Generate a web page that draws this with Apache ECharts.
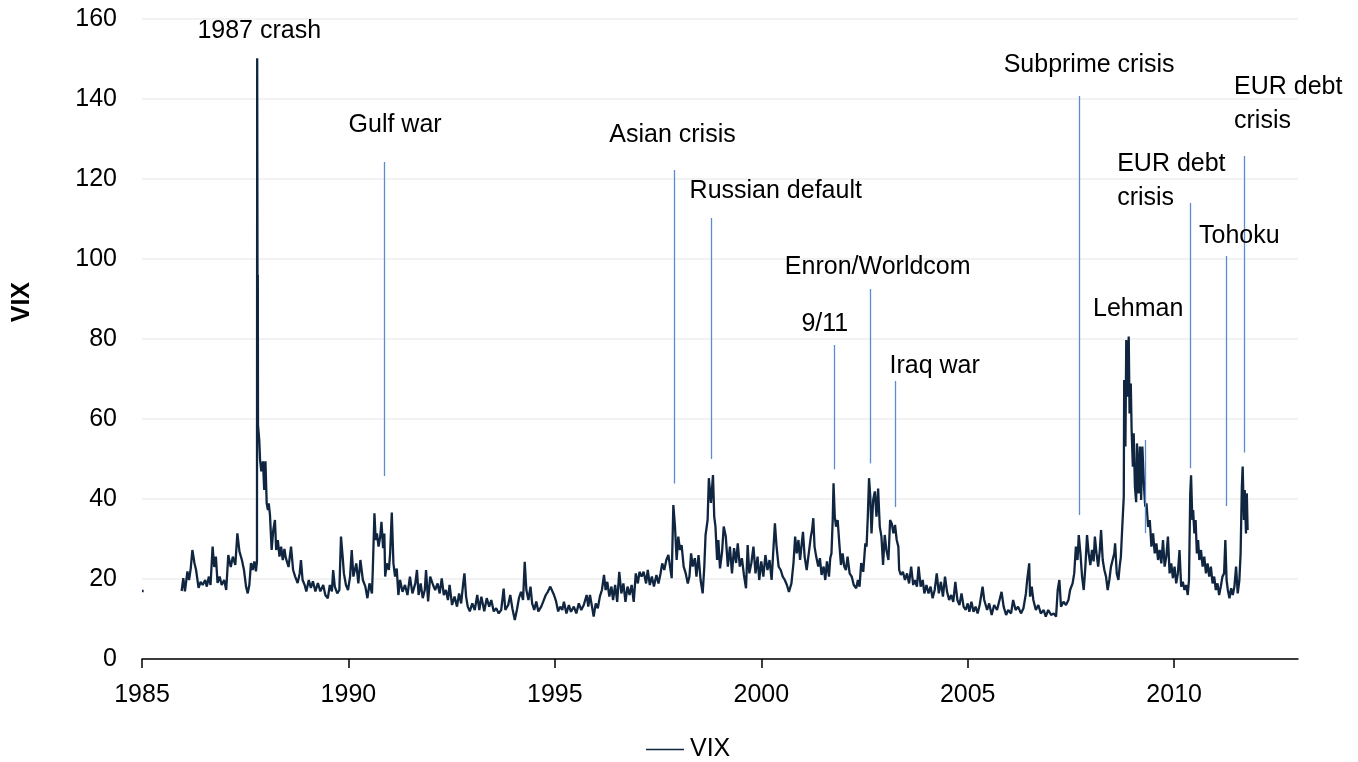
<!DOCTYPE html>
<html>
<head>
<meta charset="utf-8">
<script src="https://cdn.jsdelivr.net/npm/echarts@6/dist/echarts.min.js"></script>
<style>
html,body{margin:0;padding:0;background:#fff;}
#chart{width:1358px;height:762px;}
</style>
</head>
<body>
<div id="chart"></div>
<script>
// ---- data: [year, VIX] ----
const strayPoint = [[1985.00, 17], [1985.04, 17]];

const vix1986to1989 = [
[1985.96,17.0],[1986.00,20.2],[1986.04,16.9],[1986.10,21.9],[1986.14,19.75],[1986.18,22.6],[1986.22,27.25],[1986.27,24],[1986.31,22.25],[1986.37,17.8],[1986.42,19.3],[1986.47,18.5],[1986.53,19.75],[1986.57,18.1],[1986.62,20.6],[1986.66,18.5],[1986.71,28.1],[1986.75,23],[1986.79,25.6],[1986.83,19],[1986.88,20.6],[1986.93,18.5],[1986.99,19.75],[1987.04,17.25],[1987.09,26],[1987.15,23],[1987.20,25.6],[1987.26,23.5],[1987.31,31.4],[1987.36,26.9],[1987.42,24.75],[1987.47,22.25],[1987.52,18.1],[1987.56,16.4],[1987.60,18.5],[1987.64,24],[1987.68,22.25],[1987.72,24.4],[1987.76,21.9],[1987.785,24.5],
[1987.79,150.2],[1987.795,113.5],[1987.80,74],[1987.805,96],[1987.81,58.5],[1987.84,54.75],[1987.86,49.75],[1987.89,46.9],[1987.93,49.4],[1987.96,42.25],[1987.99,49.4],[1988.02,38.9],[1988.05,37.25],[1988.07,38.9],[1988.10,36],[1988.14,27.25],[1988.18,32.25],[1988.22,34.75],[1988.25,27.25],[1988.29,29.75],[1988.33,25.6],[1988.37,28.1],[1988.41,24.75],[1988.45,27.5],[1988.48,25.4],[1988.55,23],[1988.61,28.1],[1988.66,22.25],[1988.71,20.6],[1988.77,19],[1988.82,21.4],[1988.85,24.75],[1988.89,19.75],[1988.94,18.5],[1988.98,16.9],[1989.04,19.75],[1989.09,17.75],[1989.14,19.4],[1989.20,16.9],[1989.26,19],[1989.32,16.9],[1989.39,18.5],[1989.44,16],[1989.50,15.2],[1989.55,18.5],[1989.60,16.9],[1989.63,22.25],[1989.67,18.1],[1989.73,16.4],[1989.78,17.25],[1989.82,30.6],[1989.86,25.6],[1989.89,21.4],[1989.94,18.5],[1989.99,17.25]
];

const vix1990to1994 = [
[1990.04,20.6],[1990.08,27.25],[1990.12,20.6],[1990.19,23.9],[1990.24,18.9],[1990.29,24.75],[1990.35,19.75],[1990.41,18.1],[1990.46,15.2],[1990.51,18.9],[1990.57,16.4],[1990.59,22.25],[1990.63,36.4],[1990.66,29.75],[1990.69,31.4],[1990.73,28.1],[1990.77,30.6],[1990.80,34.3],[1990.84,27.7],[1990.87,31.4],[1990.89,20.6],[1990.93,23.9],[1990.98,22.25],[1991.01,26.4],[1991.05,36.6],[1991.09,23.9],[1991.13,20.6],[1991.17,22.6],[1991.21,16],[1991.25,19.75],[1991.31,16.8],[1991.37,18.5],[1991.43,16],[1991.49,20.6],[1991.55,16.4],[1991.62,18.9],[1991.66,22.25],[1991.70,16],[1991.75,18.9],[1991.80,15.2],[1991.85,17.25],[1991.88,22.25],[1991.93,14.4],[1991.98,20.6],[1992.05,18.5],[1992.10,17.25],[1992.16,18.9],[1992.21,16.4],[1992.26,20.15],[1992.31,16],[1992.36,17.25],[1992.41,14.75],[1992.45,18.5],[1992.51,13.5],[1992.57,15.6],[1992.63,13.1],[1992.68,16.4],[1992.73,13.9],[1992.78,18.9],[1992.81,21.4],[1992.85,15.6],[1992.89,13.1],[1992.94,11.9],[1993.00,13.9],[1993.06,12.25],[1993.12,16],[1993.17,12.25],[1993.22,15.6],[1993.29,11.9],[1993.35,15.2],[1993.41,13.1],[1993.46,14.75],[1993.52,11.9],[1993.58,12.7],[1993.64,11.4],[1993.70,12.25],[1993.76,17.6],[1993.80,12.25],[1993.87,13.5],[1993.92,16],[1993.97,12.7],[1994.03,9.75],[1994.08,12.25],[1994.13,15.2],[1994.18,16.8],[1994.23,14.75],[1994.27,24.3],[1994.31,17.25],[1994.36,14.75],[1994.41,18.1],[1994.45,13.9],[1994.50,12.25],[1994.55,14.4],[1994.60,11.9],[1994.67,13.1],[1994.72,14.4],[1994.78,16],[1994.83,16.8],[1994.89,18.1],[1994.93,18.5],[1994.98,16],[1995.03,14.4],[1995.08,11.9],[1995.13,13.1]
];

const vix1995to1999 = [
[1995.18,12.25],[1995.22,14.3],[1995.28,11.4],[1995.34,13.5],[1995.39,11.8],[1995.46,13.1],[1995.52,11.4],[1995.58,13.9],[1995.64,12.25],[1995.70,13.5],[1995.77,16],[1995.81,13.1],[1995.85,16],[1995.90,13.1],[1995.94,10.6],[1995.99,13.9],[1996.04,12.7],[1996.09,15.6],[1996.14,17.25],[1996.19,21],[1996.23,17.25],[1996.27,19.3],[1996.32,15.6],[1996.37,18.1],[1996.41,14.75],[1996.46,18.5],[1996.51,14.3],[1996.56,21.8],[1996.61,16.4],[1996.66,18.9],[1996.71,14.3],[1996.76,18.1],[1996.81,16],[1996.86,18.5],[1996.91,14.3],[1996.96,21.4],[1997.01,18.9],[1997.05,21.8],[1997.10,20.6],[1997.15,21.8],[1997.21,18.9],[1997.25,22.25],[1997.30,18.5],[1997.35,20.6],[1997.40,18.1],[1997.46,21],[1997.51,18.9],[1997.56,21.4],[1997.60,23.9],[1997.65,22.25],[1997.70,24.75],[1997.75,26],[1997.79,23.1],[1997.83,20.2],[1997.87,38.5],[1997.91,33.1],[1997.95,24.75],[1997.99,30.6],[1998.03,27.25],[1998.07,28.5],[1998.12,23.1],[1998.17,21.4],[1998.22,18.9],[1998.26,20.6],[1998.30,26.4],[1998.34,23.1],[1998.39,25.2],[1998.43,20.6],[1998.48,26],[1998.53,19.75],[1998.58,16.4],[1998.62,23.1],[1998.65,31],[1998.70,34.75],[1998.73,45.2],[1998.78,39],[1998.83,46],[1998.86,35.6],[1998.89,33.1],[1998.93,24.75],[1998.96,29.75],[1999.00,22.65],[1999.05,26.8],[1999.09,33.1],[1999.14,30.6],[1999.19,23.1],[1999.24,28.1],[1999.29,21.4],[1999.34,27.7],[1999.39,24],[1999.43,28.9],[1999.48,23.1],[1999.53,25.2],[1999.58,21],[1999.63,17.7],[1999.67,28.5],[1999.71,21.4],[1999.76,24],[1999.81,28.1],[1999.86,21.4],[1999.91,25.6],[1999.95,19.75],[2000.00,24.4],[2000.05,20.6],[2000.10,26],[2000.15,22.25],[2000.20,24.75],[2000.25,19.75]
];

const vix2000to2004 = [
[2000.33,33.9],[2000.37,28.1],[2000.42,23.1],[2000.47,22.25],[2000.52,20.6],[2000.57,19.75],[2000.62,18.5],[2000.67,16.8],[2000.73,18.9],[2000.78,24],[2000.82,30.6],[2000.86,26.4],[2000.90,29.75],[2000.94,24.75],[2000.98,28.9],[2001.01,31.8],[2001.05,25.6],[2001.10,22.25],[2001.15,26.4],[2001.20,30.6],[2001.23,32.25],[2001.26,35.2],[2001.29,28.1],[2001.33,25.6],[2001.38,23.1],[2001.42,25.2],[2001.46,21],[2001.51,23.1],[2001.55,19.75],[2001.59,24.4],[2001.64,20.6],[2001.67,25.2],[2001.70,26.4],[2001.73,34.75],[2001.75,43.9],[2001.78,35.6],[2001.81,33.1],[2001.85,34.75],[2001.89,28.9],[2001.93,23.5],[2001.97,26.4],[2002.01,23.1],[2002.05,22.25],[2002.09,25.6],[2002.14,21.4],[2002.19,20.6],[2002.24,18.5],[2002.30,17.7],[2002.34,19.75],[2002.38,18.1],[2002.42,24],[2002.47,21.8],[2002.52,28.9],[2002.55,28.1],[2002.58,35.6],[2002.61,45.2],[2002.64,40.6],[2002.67,31.4],[2002.71,39.75],[2002.75,41.9],[2002.79,35.6],[2002.83,42.6],[2002.87,33.1],[2002.91,30.6],[2002.95,23.5],[2002.99,31],[2003.03,27.25],[2003.08,24.75],[2003.12,34.75],[2003.16,33.9],[2003.20,31.4],[2003.24,33.5],[2003.28,29.75],[2003.32,28.1],[2003.34,22.25],[2003.38,21],[2003.43,21.8],[2003.48,19.75],[2003.53,21.4],[2003.58,18.9],[2003.63,23.1],[2003.68,18.5],[2003.72,19.75],[2003.77,18.1],[2003.81,23.1],[2003.86,18.1],[2003.91,19.75],[2003.95,16.4],[2004.00,18.5],[2004.05,16.4],[2004.10,18.1],[2004.15,15.2],[2004.20,17.25],[2004.25,21.4],[2004.30,16.4],[2004.35,19.3],[2004.40,15.6],[2004.45,20.6],[2004.50,16.8],[2004.55,14.75],[2004.60,16],[2004.65,14.3],[2004.70,19.3],[2004.75,14.75],[2004.80,13.5],[2004.85,16.4],[2004.90,13.1],[2004.95,12.25],[2005.00,13.9],[2005.04,11.8],[2005.09,14.3],[2005.14,11.8],[2005.19,13.1],[2005.24,11.4],[2005.29,13.5]
];

const vix2005to2011 = [
[2005.36,18.1],[2005.40,14.75],[2005.47,12.25],[2005.52,13.9],[2005.58,11],[2005.64,13.5],[2005.71,12.25],[2005.76,14.3],[2005.82,16.8],[2005.87,13.1],[2005.93,11],[2005.98,12.25],[2006.05,11.4],[2006.10,14.75],[2006.16,12.25],[2006.22,13.1],[2006.29,11.4],[2006.35,12.7],[2006.41,16.4],[2006.44,19.75],[2006.49,23.9],[2006.51,15.6],[2006.55,18.1],[2006.59,14.75],[2006.65,12.25],[2006.71,13.5],[2006.77,11.4],[2006.84,12.25],[2006.89,10.6],[2006.95,12.25],[2007.02,11],[2007.08,11.4],[2007.14,10.6],[2007.18,17.25],[2007.22,19.75],[2007.26,13.1],[2007.32,14.3],[2007.38,13.5],[2007.44,14.75],[2007.48,17.25],[2007.54,18.9],[2007.58,21.4],[2007.62,28.1],[2007.66,24.75],[2007.69,31],[2007.73,26.4],[2007.77,20.6],[2007.81,17.25],[2007.85,23.1],[2007.89,31],[2007.93,26.4],[2007.97,23.5],[2008.01,27.25],[2008.05,24.4],[2008.08,30.6],[2008.12,26.4],[2008.16,23.1],[2008.20,27.25],[2008.23,32.25],[2008.27,24.75],[2008.31,22.25],[2008.35,20.6],[2008.39,17.25],[2008.43,19.75],[2008.47,23.1],[2008.51,24.75],[2008.55,26.4],[2008.57,28.9],[2008.61,21.4],[2008.65,19.75],[2008.68,23.1],[2008.71,25.6],[2008.74,32.25],[2008.78,40.6],[2008.79,69.75],[2008.82,53.1],[2008.84,79.75],[2008.87,65.6],[2008.90,80.6],[2008.92,61.4],[2008.95,68.9],[2008.97,57.25],[2009.00,48.1],[2009.02,56.4],[2009.05,43.1],[2009.08,39.2],[2009.10,53.9],[2009.14,41.4],[2009.17,53.1],[2009.20,39.75],[2009.23,53.1],[2009.27,43.1],[2009.30,38.1],[2009.33,38.9],[2009.37,33],[2009.41,34.75],[2009.45,28.1],[2009.49,31.4],[2009.53,26.4],[2009.57,28.9],[2009.61,24.75],[2009.65,27.25],[2009.69,23.9],[2009.73,29.75],[2009.77,23.1],[2009.81,25.6],[2009.85,30.6],[2009.89,21.4],[2009.93,23.9],[2009.97,20.2],[2010.01,23.1],[2010.05,18.9],[2010.09,21.4],[2010.13,27.25],[2010.17,18.1],[2010.21,19.3],[2010.25,17.25],[2010.29,18.5],[2010.33,16],[2010.36,19.75],[2010.39,41.4],[2010.41,45.9],[2010.44,34.75],[2010.46,37.25],[2010.49,31.4],[2010.52,34.75],[2010.55,26.4],[2010.58,29.75],[2010.61,24.75],[2010.65,27.25],[2010.69,23.1],[2010.73,25.6],[2010.77,21.4],[2010.81,23.9],[2010.85,20.6],[2010.89,23.1],[2010.93,18.9],[2010.97,20.6],[2011.01,17.25],[2011.05,18.9],[2011.09,16],[2011.13,18.1],[2011.17,20.6],[2011.21,21.4],[2011.24,29.75],[2011.27,19.75],[2011.30,17.25],[2011.34,15.2],[2011.38,17.7],[2011.42,16],[2011.46,18.1],[2011.50,23.1],[2011.54,16.4],[2011.58,19.75],[2011.61,26.4],[2011.64,43.1],[2011.66,48.1],[2011.69,34.75],[2011.71,42.25],[2011.74,31.4],[2011.76,41.4],[2011.78,32.25]
];

// event markers: [year, bottom value, top value]
const eventLines = [
  [1990.875, 45.75, 124.25],
  [1997.883, 43.9, 122.25],
  [1998.790, 50.0, 110.25],
  [2001.763, 47.4, 78.5],
  [2002.630, 48.9, 92.5],
  [2003.235, 38.0, 69.5],
  [2007.700, 36.0, 140.75],
  [2009.290, 31.5, 54.75],
  [2010.390, 47.7, 114.0],
  [2011.250, 38.25, 100.75],
  [2011.700, 51.6, 125.75]
];

// event labels: [text, year, value, alignment]
const eventLabels = [
  ['1987 crash', 1987.84, 156.9, 'center'],
  ['Gulf war', 1991.13, 133.4, 'center'],
  ['Asian crisis', 1997.85, 130.9, 'center'],
  ['Russian default', 2000.35, 116.9, 'center'],
  ['9/11', 2001.54, 83.6, 'center'],
  ['Enron/Worldcom', 2002.82, 97.9, 'center'],
  ['Iraq war', 2004.20, 73.1, 'center'],
  ['Subprime crisis', 2007.94, 148.4, 'center'],
  ['Lehman', 2009.13, 87.4, 'center'],
  ['EUR debt\ncrisis', 2008.62, 119.4, 'left'],
  ['Tohoku', 2011.58, 105.6, 'center'],
  ['EUR debt\ncrisis', 2011.45, 138.7, 'left']
];

const yearTicks = [1985, 1990, 1995, 2000, 2005, 2010];

const FONT = "'Liberation Sans', Arial, sans-serif";
const FS = 25;
const LINE_COLOR = '#10253F';

const vixData = strayPoint.concat([[1985.5, '-']], vix1986to1989, vix1990to1994, vix1995to1999, vix2000to2004, vix2005to2011);

const chart = echarts.init(document.getElementById('chart'));
chart.setOption({
  animation: false,
  backgroundColor: '#ffffff',
  textStyle: { fontFamily: FONT },
  grid: { left: 142, right: 60, top: 19, bottom: 103 },
  xAxis: {
    type: 'value',
    min: 1985, max: 2013, interval: 5,
    axisLine: { show: true, lineStyle: { color: '#000', width: 1.5 } },
    axisTick: { show: true, length: 9, lineStyle: { color: '#000', width: 1.5 }, customValues: yearTicks },
    axisLabel: { color: '#000', fontSize: FS, fontFamily: FONT, margin: 24, customValues: yearTicks, formatter: v => String(v) },
    splitLine: { show: false }
  },
  yAxis: {
    type: 'value',
    min: 0, max: 160, interval: 20,
    axisLine: { show: false },
    axisTick: { show: false },
    axisLabel: { color: '#000', fontSize: FS, fontFamily: FONT, margin: 25 },
    splitLine: { show: true, lineStyle: { color: '#eeeeee', width: 1.5 } }
  },
  legend: {
    data: [{ name: 'VIX', icon: 'rect' }],
    left: 646, top: 737, padding: 0,
    itemWidth: 38, itemHeight: 1.5, itemGap: 10,
    itemStyle: { color: LINE_COLOR },
    textStyle: { color: '#000', fontSize: FS, fontFamily: FONT, padding: [0, 0, 0, 1] }
  },
  graphic: [{
    type: 'text',
    left: 10, top: 282,
    rotation: Math.PI / 2,
    style: { text: 'VIX', fill: '#000', font: "bold " + FS + "px " + FONT }
  }],
  series: [{
    name: 'VIX',
    type: 'line',
    data: vixData,
    symbol: 'none',
    showSymbol: false,
    connectNulls: false,
    lineStyle: { color: LINE_COLOR, width: 2.3 },
    itemStyle: { color: LINE_COLOR },
    z: 3,
    markLine: {
      silent: true,
      symbol: ['none', 'none'],
      label: { show: false },
      lineStyle: { color: '#5b8bd0', width: 1.3, type: 'solid' },
      data: eventLines.map(e => [{ coord: [e[0], e[1]] }, { coord: [e[0], e[2]] }])
    },
    markPoint: {
      silent: true,
      symbol: 'circle',
      symbolSize: 0,
      itemStyle: { color: 'rgba(0,0,0,0)' },
      data: eventLabels.map(e => ({
        name: e[0],
        coord: [e[1], e[2]],
        label: {
          show: true,
          position: 'inside',
          formatter: e[0],
          color: '#000',
          fontSize: FS,
          fontFamily: FONT,
          lineHeight: 34,
          align: e[3],
          verticalAlign: 'middle'
        }
      }))
    }
  }]
});
</script>
</body>
</html>
